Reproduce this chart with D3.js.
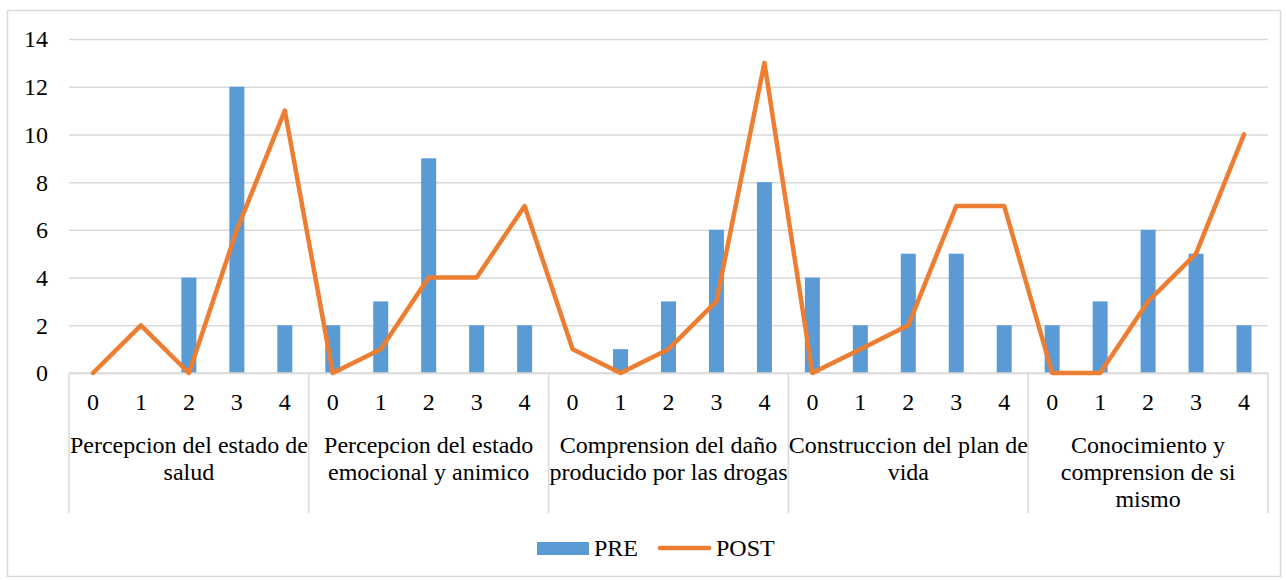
<!DOCTYPE html>
<html>
<head>
<meta charset="utf-8">
<script src="https://cdn.jsdelivr.net/npm/d3@7"></script>
<style>
  html, body { margin: 0; padding: 0; background: #fff; }
  svg { display: block; }
</style>
</head>
<body>
<svg id="chart" width="1286" height="580"></svg>
<script>
// Dimension groups (outer axis level), already split into the lines they wrap to
const groups = [
  ["Percepcion del estado de", "salud"],
  ["Percepcion del estado", "emocional y animico"],
  ["Comprension del daño", "producido por las drogas"],
  ["Construccion del plan de", "vida"],
  ["Conocimiento y", "comprension de si", "mismo"]
];
// Score levels (inner axis level)
const levels = ["0", "1", "2", "3", "4"];

// Frequencies per group, one entry per level 0..4
const preValues = [
  [0, 0, 4, 12, 2],
  [2, 3, 9, 2, 2],
  [0, 1, 3, 6, 8],
  [4, 2, 5, 5, 2],
  [2, 3, 6, 5, 2]
];
const postValues = [
  [0, 2, 0, 6, 11],
  [0, 1, 4, 4, 7],
  [1, 0, 1, 3, 13],
  [0, 1, 2, 7, 7],
  [0, 0, 3, 5, 10]
];
const yTicks = [0, 2, 4, 6, 8, 10, 12, 14];
const seriesNames = ["PRE", "POST"];

const BLUE = "#5B9BD5", ORANGE = "#ED7D31", GRID = "#D9D9D9";
const FONT = "'Liberation Serif', 'Times New Roman', serif";
const FS = "24px";

// Flatten into one row per (group, level)
const rows = [];
groups.forEach((g, gi) => levels.forEach((l, li) => {
  rows.push({ key: gi + "-" + li, group: gi, level: l, pre: preValues[gi][li], post: postValues[gi][li] });
}));

const svg = d3.select("#chart").attr("font-family", FONT);
const margin = { left: 69, top: 39 };
const plotRight = 1268, baseY = 373;

function styleText(sel) {
  return sel.attr("font-family", FONT).attr("font-size", FS).attr("fill", "#000");
}

// Outer frame
svg.append("rect")
  .attr("x", 7.5).attr("y", 10.5).attr("width", 1273).attr("height", 566)
  .attr("fill", "#fff").attr("stroke", GRID).attr("stroke-width", 1.5);

const x = d3.scaleBand().domain(rows.map(d => d.key)).range([margin.left, plotRight]);
const y = d3.scaleLinear().domain([0, 14]).range([baseY, margin.top]);

// Horizontal gridlines + y tick labels
const yAxis = d3.axisLeft(y).tickValues(yTicks).tickSize(-(plotRight - margin.left)).tickPadding(21).tickFormat(d3.format("d"));
const gy = svg.append("g").attr("transform", `translate(${margin.left},0)`).call(yAxis)
  .attr("font-family", FONT).attr("font-size", FS);
gy.select(".domain").remove();
gy.selectAll(".tick line").attr("stroke", GRID).attr("stroke-width", 1.5);
styleText(gy.selectAll(".tick text")).attr("dy", "0.33em");

// PRE bars
const barW = 15;
svg.append("g").selectAll("rect").data(rows.filter(d => d.pre > 0)).join("rect")
  .attr("x", d => x(d.key) + x.bandwidth() / 2 - barW / 2)
  .attr("y", d => y(d.pre))
  .attr("width", barW)
  .attr("height", d => y(0) - y(d.pre))
  .attr("fill", BLUE);

// Category axis: baseline, group separators, labels
const axisG = svg.append("g");
axisG.append("line")
  .attr("x1", margin.left).attr("x2", plotRight).attr("y1", baseY).attr("y2", baseY)
  .attr("stroke", GRID).attr("stroke-width", 1.5);

const groupW = x.bandwidth() * levels.length;
const groupEdges = d3.range(groups.length + 1).map(i => margin.left + i * groupW);
axisG.selectAll("line.sep").data(groupEdges).join("line")
  .attr("class", "sep")
  .attr("x1", d => d).attr("x2", d => d)
  .attr("y1", baseY).attr("y2", 513)
  .attr("stroke", GRID).attr("stroke-width", 1.5);

styleText(axisG.selectAll("text.level").data(rows).join("text")
  .attr("class", "level")
  .attr("x", d => x(d.key) + x.bandwidth() / 2)
  .attr("y", 410)
  .attr("text-anchor", "middle")
  .text(d => d.level));

// Group labels, centred under their five levels
const lineH = 27;
groups.forEach((lines, gi) => {
  const cx = margin.left + (gi + 0.5) * groupW;
  const t = styleText(axisG.append("text").attr("text-anchor", "middle"));
  lines.forEach((l, i) => {
    t.append("tspan").attr("x", cx).attr("y", 453 + i * lineH).text(l);
  });
});

// POST line
const line = d3.line()
  .x(d => x(d.key) + x.bandwidth() / 2)
  .y(d => y(d.post));
svg.append("path").datum(rows)
  .attr("d", line)
  .attr("fill", "none")
  .attr("stroke", ORANGE)
  .attr("stroke-width", 4.5)
  .attr("stroke-linejoin", "round")
  .attr("stroke-linecap", "round");

// Legend
const leg = svg.append("g");
leg.append("rect").attr("x", 537).attr("y", 542).attr("width", 52).attr("height", 13).attr("fill", BLUE);
styleText(leg.append("text").attr("x", 594).attr("y", 556).text(seriesNames[0]));
leg.append("line").attr("x1", 660).attr("x2", 709).attr("y1", 548).attr("y2", 548)
  .attr("stroke", ORANGE).attr("stroke-width", 4.5).attr("stroke-linecap", "round");
styleText(leg.append("text").attr("x", 716).attr("y", 556).text(seriesNames[1]));
</script>
</body>
</html>
